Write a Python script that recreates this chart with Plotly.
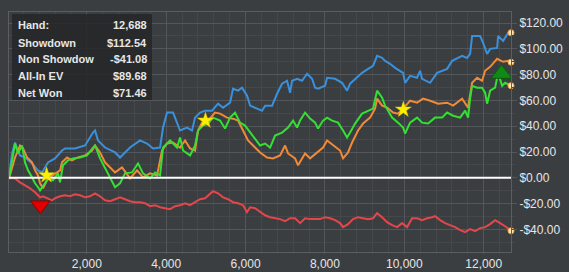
import plotly.graph_objects as go

# ---------------- data ----------------
x_range = [40, 12688]

blue_hands = [40,116,192,267,318,444,620,771,872,1023,1200,1376,1452,1704,1956,2157,2208,2283,2460,2712,2838,2964,3090,3342,3518,3669,3846,3921,4022,4173,4274,4350,4526,4652,4728,4854,4980,5156,5307,5433,5610,5685,5811,5912,6038,6114,6290,6416,6492,6668,6794,6920,7046,7122,7172,7298,7424,7550,7676,7752,7827,8004,8054,8256,8432,8558,8634,8810,8936,9087,9213,9314,9440,9516,9642,9768,9969,10020,10146,10322,10398,10448,10650,10826,11078,11204,11456,11582,11658,11708,11910,11986,12086,12162,12338,12364,12490,12616,12688]
blue_vals = [0.4,18.9,27.4,21.2,17.4,15.8,11.2,5.8,4.2,12.0,15.1,21.2,22.8,22.8,25.1,35.1,36.7,29.0,23.5,19.7,15.8,19.7,23.5,29.0,26.6,22.8,23.5,39.0,50.6,50.6,42.8,36.7,39.0,36.7,46.7,50.6,52.1,52.1,57.5,54.4,58.3,69.1,67.6,69.9,63.7,56.0,53.7,52.1,56.0,56.0,65.2,73.0,75.3,66.0,75.3,76.8,75.3,80.7,76.8,69.9,69.1,71.4,77.6,76.8,73.7,67.6,73.0,77.6,81.4,84.5,86.9,94.6,93.0,90.7,88.4,85.3,81.4,73.7,79.1,77.6,83.0,76.8,73.7,81.4,84.5,90.7,94.6,93.0,96.1,110.0,110.0,104.6,96.1,100.0,100.7,110.0,106.2,112.4,112.54]

orange_hands = [40,192,318,393,494,620,696,771,822,897,1023,1200,1326,1376,1502,1628,1779,1956,2132,2208,2334,2460,2586,2712,2888,3090,3266,3417,3594,3770,3896,4022,4173,4350,4476,4602,4728,4803,4904,5055,5231,5357,5534,5685,5811,5937,6063,6240,6366,6542,6693,6870,6996,7071,7248,7323,7500,7626,7802,7953,8054,8205,8382,8457,8583,8684,8835,8961,9137,9263,9314,9440,9566,9717,9843,9969,10146,10322,10473,10650,10851,11078,11230,11456,11607,11708,11834,11960,12036,12162,12338,12490,12616,12688]
orange_vals = [-0.4,15.8,25.1,22.8,15.8,12.0,5.8,1.9,-4.2,-8.1,-0.4,3.5,5.8,12.0,15.8,13.5,15.8,17.4,21.2,25.1,19.7,12.0,8.1,4.2,8.1,-0.4,5.8,0.4,3.5,1.9,21.2,26.6,27.4,23.5,29.0,22.8,21.2,36.7,42.8,44.4,50.6,49.8,46.7,45.9,44.4,36.7,29.0,23.5,19.7,15.8,15.1,17.4,25.1,18.9,15.1,9.7,18.9,15.1,19.7,23.5,29.0,25.1,21.2,15.1,19.7,27.4,36.7,42.1,46.7,53.7,61.4,56.0,54.4,50.6,49.8,53.7,59.8,58.3,61.4,59.8,57.5,58.3,56.0,61.4,54.4,73.7,77.6,75.3,83.0,86.1,92.3,90.0,90.7,89.68]

green_hands = [40,141,192,267,368,444,519,620,696,771,822,948,1023,1149,1275,1326,1401,1527,1653,1830,2006,2157,2208,2334,2460,2586,2712,2838,2964,3140,3291,3417,3594,3720,3846,3921,4098,4274,4350,4425,4602,4728,4803,4929,5055,5181,5357,5483,5610,5735,5861,5987,6114,6240,6366,6492,6618,6744,6920,7071,7197,7298,7374,7500,7626,7752,7827,7953,8054,8180,8331,8457,8558,8634,8760,8936,9087,9213,9314,9440,9516,9692,9843,9969,10020,10146,10322,10448,10599,10775,10952,11078,11230,11406,11532,11607,11658,11708,11834,11960,12036,12086,12162,12288,12364,12465,12540,12688]
green_vals = [-0.4,18.9,26.6,18.9,25.1,12.0,5.8,0.4,-4.2,-7.3,-9.7,-4.2,-0.4,-1.9,3.5,-3.5,9.7,13.5,15.1,15.8,17.4,23.5,25.1,15.1,7.3,-0.4,-7.3,-4.2,3.5,4.2,11.2,3.5,-0.4,4.2,1.9,23.5,29.0,23.5,31.3,21.2,17.4,25.1,36.7,40.5,42.1,46.7,44.4,38.2,46.7,50.6,42.8,40.5,35.1,29.7,25.1,26.6,23.5,32.8,35.1,39.0,44.4,39.0,44.4,50.6,45.9,42.8,38.2,44.4,46.7,44.4,42.8,36.7,31.3,35.1,42.1,49.8,52.1,53.7,67.6,62.1,56.0,46.7,42.8,39.0,34.4,42.8,46.7,42.8,42.1,46.7,46.7,50.6,48.2,46.7,52.1,46.7,61.4,71.4,69.9,69.9,66.0,57.5,67.6,69.9,81.4,71.4,73.7,71.46]

red_hands = [40,192,318,444,570,696,822,897,1023,1124,1200,1326,1452,1578,1704,1830,1956,2082,2208,2334,2460,2586,2712,2838,2964,3090,3215,3342,3467,3594,3720,3846,3972,4098,4224,4350,4476,4602,4728,4854,4980,5105,5181,5307,5433,5558,5685,5811,5937,6038,6114,6240,6366,6492,6618,6744,6870,6996,7122,7248,7374,7500,7626,7752,7878,8004,8130,8256,8382,8457,8583,8709,8835,8961,9087,9213,9314,9440,9566,9692,9818,9944,10070,10196,10322,10448,10574,10700,10775,10902,11028,11154,11280,11406,11532,11658,11784,11910,12036,12162,12288,12414,12540,12688]
red_vals = [-0.4,-0.4,-3.5,-5.8,-8.1,-11.2,-15.1,-14.3,-15.8,-17.4,-15.8,-14.3,-13.5,-14.3,-12.7,-13.5,-15.1,-14.3,-12.0,-14.3,-17.4,-18.1,-16.6,-15.1,-16.6,-18.1,-18.9,-18.9,-19.7,-22.0,-21.2,-22.8,-23.5,-24.3,-22.0,-21.2,-19.7,-21.2,-18.9,-16.6,-15.8,-12.7,-10.4,-12.0,-15.1,-16.6,-18.9,-19.7,-21.2,-26.6,-22.8,-23.5,-26.6,-29.0,-30.5,-31.3,-32.0,-33.6,-31.3,-31.3,-35.1,-31.3,-32.0,-32.0,-32.0,-30.5,-31.3,-32.8,-35.1,-38.2,-35.9,-32.0,-30.5,-31.3,-32.0,-31.3,-27.4,-30.5,-34.4,-36.7,-38.2,-35.1,-38.2,-31.3,-31.3,-32.8,-31.3,-30.5,-29.7,-32.8,-35.1,-36.7,-38.2,-40.5,-42.1,-39.8,-41.3,-39.0,-38.2,-35.9,-32.8,-35.1,-37.5,-41.08]

star_hands = [987, 4990, 9975]
star_vals = [2.0, 44.4, 52.9]
low_hand, low_val = 828, -21.2
high_hand, high_val = 12448, 80.7

stat_labels = ["Hand:", "Showdown", "Non Showdow", "All-In EV", "Net Won"]
stat_values = ["12,688", "$112.54", "-$41.08", "$89.68", "$71.46"]

x_tickvals = [2000, 4000, 6000, 8000, 10000, 12000]
x_ticktext = ["2,000", "4,000", "6,000", "8,000", "10,000", "12,000"]
y_tickvals = [-40, -20, 0, 20, 40, 60, 80, 100, 120]
y_ticktext = ["-$40.00", "-$20.00", "$0.00", "$20.00", "$40.00", "$60.00", "$80.00", "$100.00", "$120.00"]
y_range = [-57.5, 128.6]

# ---------------- style ----------------
W, H = 569, 272
ML, MR, MT, MB = 9, 58, 12, 20
BG = "#3b3e41"
GRID_MINOR = "#45484b"
GRID_MAJOR = "#53565a"
TXT = "#e6e6e6"
C_BLUE, C_ORANGE, C_GREEN, C_RED = "#3a90da", "#f08a36", "#33e033", "#e4474b"

fig = go.Figure()
for hx, vy, col in [(red_hands, red_vals, C_RED), (blue_hands, blue_vals, C_BLUE),
                    (orange_hands, orange_vals, C_ORANGE), (green_hands, green_vals, C_GREEN)]:
    fig.add_trace(go.Scatter(x=hx, y=vy, mode="lines", line=dict(color=col, width=2),
                             hoverinfo="skip", showlegend=False))

# zero line
fig.add_trace(go.Scatter(x=x_range, y=[0, 0], mode="lines", line=dict(color="#ffffff", width=2),
                         hoverinfo="skip", showlegend=False))

# end dots
fig.add_trace(go.Scatter(x=[blue_hands[-1], orange_hands[-1], green_hands[-1], red_hands[-1]],
                         y=[blue_vals[-1], orange_vals[-1], green_vals[-1], red_vals[-1]],
                         mode="markers", marker=dict(size=6, color="#ffe9b8",
                                                     line=dict(color="#f0a040", width=1)),
                         cliponaxis=False, hoverinfo="skip", showlegend=False))

# stars
fig.add_trace(go.Scatter(x=star_hands, y=star_vals, mode="markers",
                         marker=dict(symbol="star", size=12, color="#ffee00",
                                     line=dict(color="#d8c000", width=0.5)),
                         hoverinfo="skip", showlegend=False))
fig.add_trace(go.Scatter(x=[low_hand], y=[low_val], mode="markers",
                         marker=dict(symbol="triangle-down", size=17, color="#e00000",
                                     line=dict(color="#8a0000", width=1)),
                         hoverinfo="skip", showlegend=False))
fig.add_trace(go.Scatter(x=[high_hand], y=[high_val], mode="markers",
                         marker=dict(symbol="triangle-up", size=18, color="#108a14",
                                     line=dict(color="#0a5a0c", width=1)),
                         hoverinfo="skip", showlegend=False))

# stats box (pixel -> paper helpers)
pw, ph = W - ML - MR, H - MT - MB
def px(x):
    return (x - ML) / pw
def py(y):
    return (H - MB - y) / ph

fig.add_shape(type="rect", xref="paper", yref="paper", x0=px(12), x1=px(152), y0=py(100), y1=py(14),
              fillcolor="rgba(36,38,40,0.85)", line=dict(width=0), layer="above")
row_y = [25, 42.7, 59.3, 76, 92.7]
for lab, val, yy in zip(stat_labels, stat_values, row_y):
    fig.add_annotation(text="<b>%s</b>" % lab, xref="paper", yref="paper", x=px(16), y=py(yy),
                       xanchor="left", yanchor="middle", showarrow=False,
                       font=dict(family="Liberation Sans", size=11, color=TXT))
    fig.add_annotation(text="<b>%s</b>" % val, xref="paper", yref="paper", x=px(149), y=py(yy),
                       xanchor="right", yanchor="middle", showarrow=False,
                       font=dict(family="Liberation Sans", size=11, color=TXT))

fig.update_layout(
    width=W, height=H, margin=dict(l=ML, r=MR, t=MT, b=MB),
    paper_bgcolor=BG, plot_bgcolor=BG, showlegend=False,
    font=dict(family="Liberation Sans", size=12, color=TXT),
    xaxis=dict(range=x_range, tickvals=x_tickvals, ticktext=x_ticktext, automargin=False,
               showgrid=True, gridcolor=GRID_MAJOR, gridwidth=1,
               ticks="outside", ticklen=1, tickcolor=GRID_MAJOR, ticklabelstandoff=0,
               minor=dict(dtick=400, tick0=0, showgrid=True, gridcolor=GRID_MINOR,
                          ticks="outside", ticklen=1, tickcolor=GRID_MINOR),
               showline=True, linecolor="#5a5d61", linewidth=1, mirror=True,
               zeroline=False, fixedrange=True),
    yaxis=dict(range=y_range, side="right", tickvals=y_tickvals, ticktext=y_ticktext, automargin=False,
               showgrid=True, gridcolor=GRID_MAJOR, gridwidth=1,
               ticks="outside", ticklen=5, tickcolor=GRID_MAJOR, ticklabelstandoff=0,
               minor=dict(dtick=10, tick0=0, showgrid=True, gridcolor=GRID_MINOR,
                          ticks="outside", ticklen=3, tickcolor=GRID_MINOR),
               showline=True, linecolor="#5a5d61", linewidth=1, mirror=True,
               zeroline=False, fixedrange=True),
)

fig.write_html("out.html", config={"displayModeBar": False})
